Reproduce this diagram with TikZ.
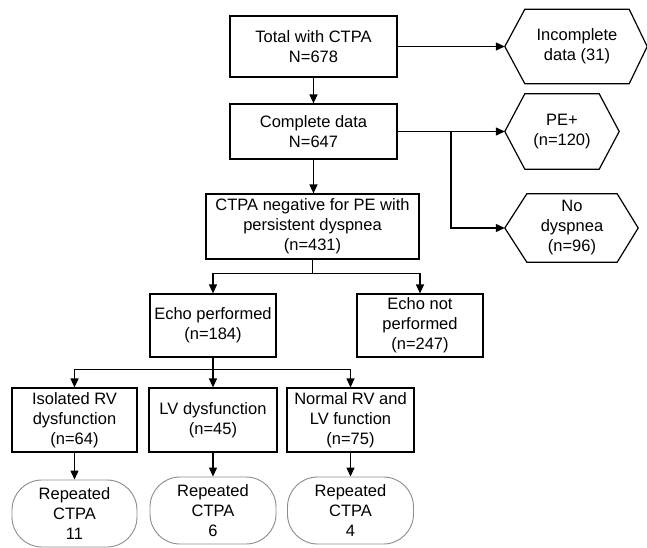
\documentclass[tikz,border=0pt]{standalone}
\usepackage{fontspec}
\setmainfont{Liberation Sans}
\usetikzlibrary{arrows.meta}
\begin{document}
\begin{tikzpicture}[x=1pt,y=-1pt,
  every node/.style={font=\fontsize{16.5pt}{20pt}\selectfont, align=center, inner sep=0pt},
  box/.style={draw, line width=1.2pt, rectangle},
  hexin/.style={draw=none, rectangle},
  hexline/.style={line width=1.2pt, line join=miter},
  roundbox/.style={draw=black!45, line width=0.9pt, rectangle, rounded corners=30pt},
  arr/.style={line width=1.2pt, -{Triangle[length=9pt,width=8pt]}},
  ln/.style={line width=1.2pt}]
\fill[white] (0,0) rectangle (647,548);
\useasboundingbox (0,0) rectangle (647,548);

% main column
\node[box, minimum width=167, minimum height=61] (A) at (313.5,46.5) {Total with CTPA\\N=678};
\node[box, minimum width=167, minimum height=55] (B) at (313.5,131.5) {Complete data\\N=647};
\node[box, minimum width=213, minimum height=65] (C) at (312.5,226.5) {CTPA negative for PE with\\persistent dyspnea\\(n=431)};
\node[box, minimum width=126, minimum height=63] (D) at (213,325.5) {Echo performed\\(n=184)};
\node[box, minimum width=126, minimum height=63] (E) at (420,325.5) {Echo not\\performed\\(n=247)};
\node[box, minimum width=125, minimum height=64] (F) at (74.5,420) {Isolated RV\\dysfunction\\(n=64)};
\node[box, minimum width=128, minimum height=64] (G) at (213,420) {LV dysfunction\\(n=45)};
\node[box, minimum width=127, minimum height=64] (H) at (350.5,420) {Normal RV and\\LV function\\(n=75)};
\node[roundbox, minimum width=125, minimum height=67] (R1) at (74.5,513.5) {Repeated\\CTPA\\11};
\node[roundbox, minimum width=126, minimum height=67] (R2) at (213,510.5) {Repeated\\CTPA\\6};
\node[roundbox, minimum width=126, minimum height=67] (R3) at (350.5,510.5) {Repeated\\CTPA\\4};

% hexagons
\node[hexin, minimum width=104, minimum height=74] (H1) at (577,46.5) {Incomplete\\data (31)};
\draw[hexline] (H1.north west) -- (H1.north east) -- ([xshift=18pt]H1.east) -- (H1.south east) -- (H1.south west) -- ([xshift=-20pt]H1.west) coordinate (H1tip) -- cycle;
\node[hexin, minimum width=74, minimum height=75] (H2) at (562,131.5) {PE+\\(n=120)};
\draw[hexline] (H2.north west) -- (H2.north east) -- ([xshift=20pt]H2.east) -- (H2.south east) -- (H2.south west) -- ([xshift=-20pt]H2.west) coordinate (H2tip) -- cycle;
\node[hexin, minimum width=90, minimum height=68] (H3) at (572,228) {No\\dyspnea\\(n=96)};
\draw[hexline] (H3.north west) -- (H3.north east) -- ([xshift=21pt]H3.east) -- (H3.south east) -- (H3.south west) -- ([xshift=-22pt]H3.west) coordinate (H3tip) -- cycle;

% connectors
\draw[arr] (A.south) -- (B.north);
\draw[arr] (A.east) -- (H1tip);
\draw[arr] (B.east) -- (H2tip);
\coordinate (Bbranch) at (451,131.5);
\draw[arr] (Bbranch) |- (H3tip);
\draw[arr] (B.south) -- (B.south |- C.north);
\draw[ln] (C.south) -- ++(0,14) coordinate (Cs);
\draw[arr] (Cs) -| (D.north);
\draw[arr] (Cs) -| (E.north);
\draw[ln] (D.south) -- ++(0,12) coordinate (Ds);
\draw[arr] (Ds) -| (F.north);
\draw[arr] (Ds) -- (G.north);
\draw[arr] (Ds) -| (H.north);
\draw[arr] (F.south) -- (R1.north);
\draw[arr] (G.south) -- (R2.north);
\draw[arr] (H.south) -- (H.south |- R3.north);
\end{tikzpicture}
\end{document}
